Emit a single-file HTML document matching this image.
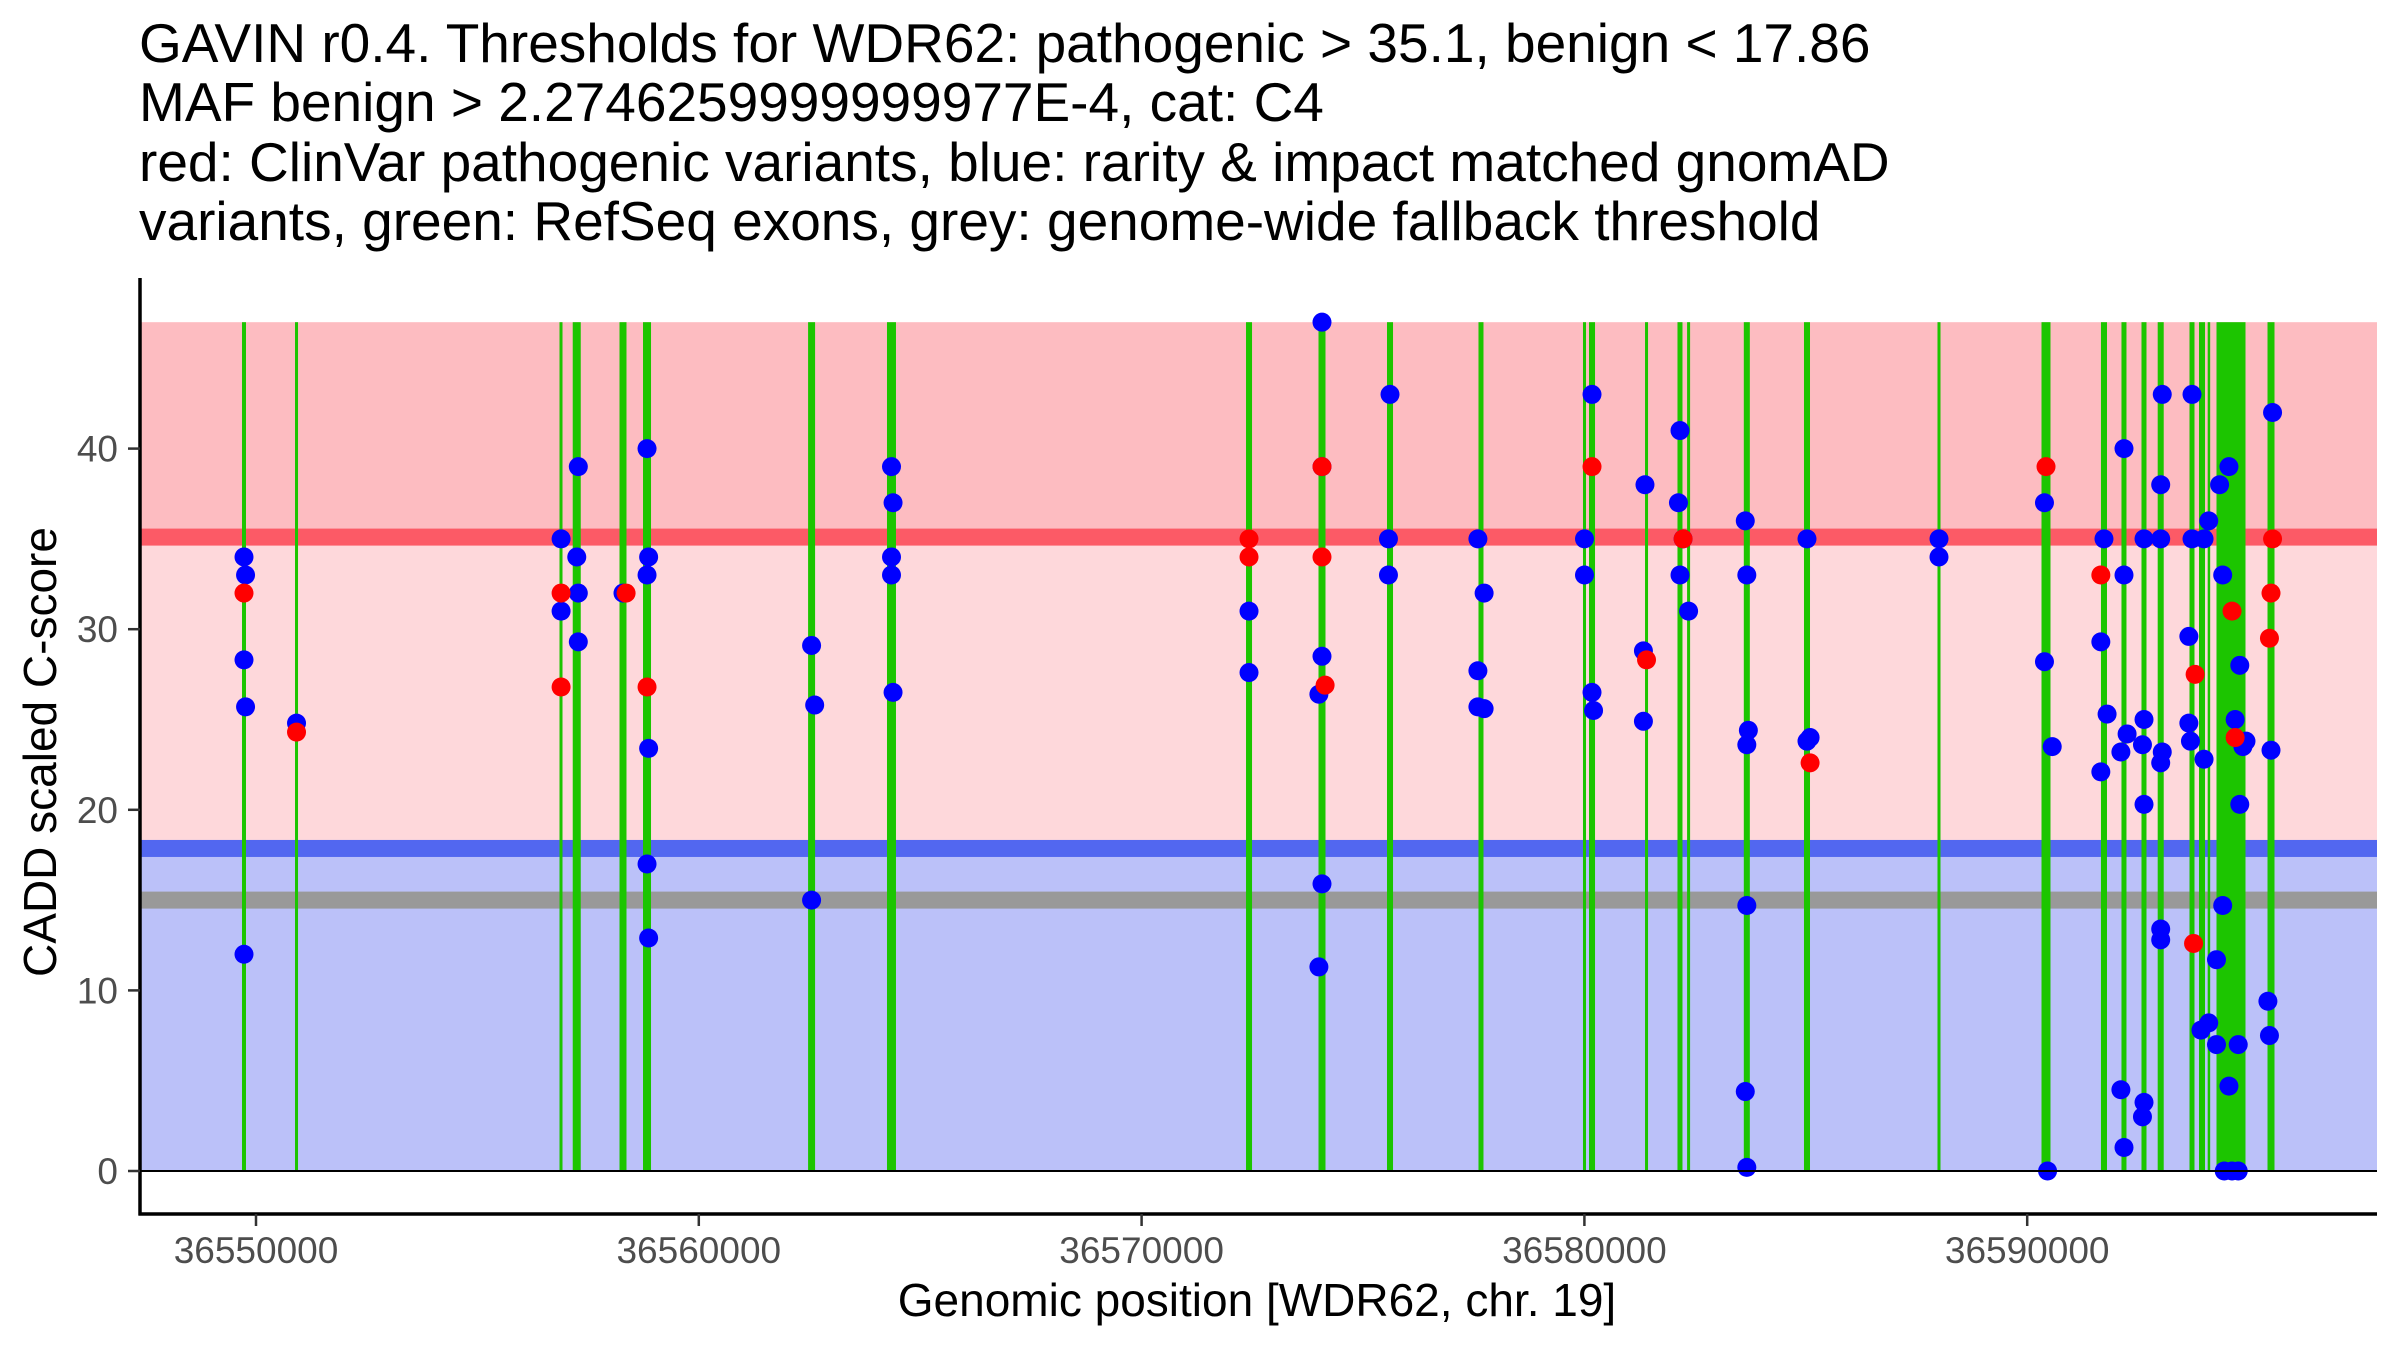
<!DOCTYPE html>
<html><head><meta charset="utf-8"><style>
html,body{margin:0;padding:0;background:#fff}
svg{display:block}
text{font-family:"Liberation Sans",Arial,sans-serif}
</style></head><body>
<svg id="chart" width="2400" height="1350" viewBox="0 0 2400 1350" xmlns="http://www.w3.org/2000/svg">
<g font-size="55" fill="#000">
<text x="139" y="62">GAVIN r0.4. Thresholds for WDR62: pathogenic &gt; 35.1, benign &lt; 17.86</text>
<text x="139" y="121">MAF benign &gt; 2.2746259999999977E-4, cat: C4</text>
<text x="139" y="181">red: ClinVar pathogenic variants, blue: rarity &amp; impact matched gnomAD</text>
<text x="139" y="240">variants, green: RefSeq exons, grey: genome-wide fallback threshold</text>
</g>
<g id="bands"></g>
<g id="exons"></g>
<g id="points"></g>
<g id="axes"></g>
<text transform="translate(56,752) rotate(-90)" text-anchor="middle" font-size="46">CADD scaled C-score</text>
<text x="1257" y="1316" text-anchor="middle" font-size="46">Genomic position [WDR62, chr. 19]</text>
</svg>
<script>
const pathoThreshold = 35.1;
const benignThreshold = 17.86;
const fallbackThreshold = 15;
const maxScore = 47;
const xTicks = [36550000, 36560000, 36570000, 36580000, 36590000];
const yTicks = [0, 10, 20, 30, 40];
const exonStart = [36549684,36550881,36556854,36557153,36558209,36558740,36562468,36564250,36572358,36573995,36575542,36577608,36579968,36580104,36581369,36582102,36582319,36583600,36584959,36587974,36590323,36591666,36592129,36592581,36592947,36593665,36593880,36594076,36594275,36595427];
const exonEnd = [36549774,36550949,36556922,36557334,36558367,36558921,36562626,36564453,36572494,36574153,36575678,36577721,36580036,36580240,36581437,36582215,36582387,36583736,36585095,36588042,36590526,36591802,36592242,36592694,36593083,36593778,36594016,36594122,36594930,36595585];
const varPos = [
36549729,36549764,36549729,36549764,36549729,36549729,
36550915,36550915,
36556890,36556890,36556890,36556890,
36557244,36557279,36557279,36557279,
36558288,36558358,
36558831,36558867,36558831,36558867,36558831,36558867,36558831,
36562547,36562617,36562547,
36564352,36564387,36564352,36564352,36564387,
36572426,36572426,36572426,36572426,
36574074,36574074,36574074,36574004,36574074,36574004,36574074,36574074,36574144,
36575610,36575575,36575575,
36577595,36577735,36577595,36577595,36577735,
36580002,36580002,36580172,36580172,36580207,36580172,
36581368,36581333,36581333,36581403,
36582159,36582124,36582229,36582159,36582353,36582229,
36583633,36583668,36583703,36583668,36583668,36583633,36583668,
36585027,36585027,36585097,36585097,
36588008,36588008,
36590390,36590390,36590565,36590460,36590425,
36591734,36591663,36591804,36591663,36591663,
36592186,36592186,36592256,36592116,36592116,36592186,
36592638,36592638,36592603,36592638,36592638,36592603,
36593050,36593015,36593015,36593050,36593015,36593015,36593015,
36593722,36593722,36593651,36593651,36593687,36593792,36593757,
36594345,36593994,36594100,36594415,36594556,36594275,36594415,36593924,36594100,36594275,36594766,36594556,36594450,36594626,36594766,36594801,36594696,36594941,36594871,36593994,36594801,36594626,36594696,
36595541,36595506,36595436,36595471,36595541,36595506,36595471
];
const varScore = [
34,33,28.3,25.7,12,32,
24.8,24.3,
35,31,32,26.8,
34,39,32,29.3,
32,32,
40,34,33,23.4,17,12.9,26.8,
29.1,25.8,15,
39,37,34,33,26.5,
31,27.6,35,34,
47,39,28.5,26.4,15.9,11.3,39,34,26.9,
43,35,33,
35,32,27.7,25.7,25.6,
35,33,43,26.5,25.5,39,
38,28.8,24.9,28.3,
41,37,35,33,31,35,
36,33,24.4,23.6,14.7,4.4,0.2,
35,23.8,24,22.6,
35,34,
37,28.2,23.5,0,39,
35,29.3,25.3,22.1,33,
40,33,24.2,23.2,4.5,1.3,
35,25,23.6,20.3,3.8,3,
43,38,35,23.2,22.6,13.4,12.8,
43,35,29.6,24.8,23.8,27.5,12.6,
38,35,36,33,39,11.7,14.7,7.8,8.2,7,7,4.7,0,0,0,28,25,23.8,23.5,22.8,20.3,31,24,
42,23.3,9.4,7.5,35,32,29.5
];
const varType = [
'b','b','b','b','b','r',
'b','r',
'b','b','r','r',
'b','b','b','b',
'b','r',
'b','b','b','b','b','b','r',
'b','b','b',
'b','b','b','b','b',
'b','b','r','r',
'b','b','b','b','b','b','r','r','r',
'b','b','b',
'b','b','b','b','b',
'b','b','b','b','b','r',
'b','b','b','r',
'b','b','b','b','b','r',
'b','b','b','b','b','b','b',
'b','b','b','r',
'b','b',
'b','b','b','b','r',
'b','b','b','b','r',
'b','b','b','b','b','b',
'b','b','b','b','b','b',
'b','b','b','b','b','b','b',
'b','b','b','b','b','r','r',
'b','b','b','b','b','b','b','b','b','b','b','b','b','b','b','b','b','b','b','b','b','r','r',
'b','b','b','b','r','r','r'
];
const NS='http://www.w3.org/2000/svg';
const X0=140,X1=2377,Y0=1171,PT=278,PB=1214;
function x(p){return 256+(p-36550000)*0.04428;}
function y(v){return Y0-v*18.06;}
function mk(tag,attrs,parent){const e=document.createElementNS(NS,tag);for(const k in attrs)e.setAttribute(k,attrs[k]);parent.appendChild(e);return e;}
const bands=document.getElementById('bands');
let e;
e=mk('rect',{x:X0,y:y(maxScore),width:X1-X0,height:y(pathoThreshold)-y(maxScore),fill:'#fdbcc1'},bands);


e=mk('rect',{x:X0,y:y(pathoThreshold),width:X1-X0,height:y(benignThreshold)-y(pathoThreshold),fill:'#fed8db'},bands);


e=mk('rect',{x:X0,y:y(benignThreshold),width:X1-X0,height:Y0-y(benignThreshold),fill:'#bbc1f9'},bands);


e=mk('rect',{x:X0,y:y(pathoThreshold)-8.5,width:X1-X0,height:17,fill:'#fc5a66'},bands);


e=mk('rect',{x:X0,y:y(benignThreshold)-8.5,width:X1-X0,height:17,fill:'#5267f0'},bands);


e=mk('rect',{x:X0,y:y(fallbackThreshold)-8.5,width:X1-X0,height:17,fill:'#999999'},bands);


const ex=document.getElementById('exons');
for(let i=0;i<exonStart.length;i++){
  const a=x(exonStart[i]),b=x(exonEnd[i]);
  e=mk('rect',{x:a,y:y(maxScore),width:Math.max(2.5,b-a),height:Y0-y(maxScore),fill:'#1cc500'},ex);
  
  
}
const pts=document.getElementById('points');
['b','r'].forEach(t=>{
  for(let i=0;i<varPos.length;i++){
    if(varType[i]!==t)continue;
    e=mk('circle',{cx:x(varPos[i]),cy:y(varScore[i]),r:9.5,fill:t==='b'?'#0000ff':'#ff0000'},pts);
    
    
  }
});
const ax=document.getElementById('axes');
e=mk('line',{x1:X0,y1:Y0,x2:X1,y2:Y0,stroke:'#000','stroke-width':2},ax);


e=mk('line',{x1:X0,y1:PT,x2:X0,y2:PB+1.5,stroke:'#000','stroke-width':3.5},ax);


e=mk('line',{x1:X0-1.5,y1:PB,x2:X1,y2:PB,stroke:'#000','stroke-width':3.5},ax);


yTicks.forEach(v=>{
  mk('line',{x1:X0-12,y1:y(v),x2:X0,y2:y(v),stroke:'#333','stroke-width':2.5},ax);
  e=mk('text',{x:X0-22,y:y(v)+13,'text-anchor':'end','font-size':37,fill:'#4d4d4d'},ax);
  e.textContent=v;
  
  
});
xTicks.forEach(v=>{
  mk('line',{x1:x(v),y1:PB,x2:x(v),y2:PB+12,stroke:'#333','stroke-width':2.5},ax);
  e=mk('text',{x:x(v),y:1263,'text-anchor':'middle','font-size':37,fill:'#4d4d4d'},ax);
  e.textContent=v;
  
  
});
</script>
</body></html>
